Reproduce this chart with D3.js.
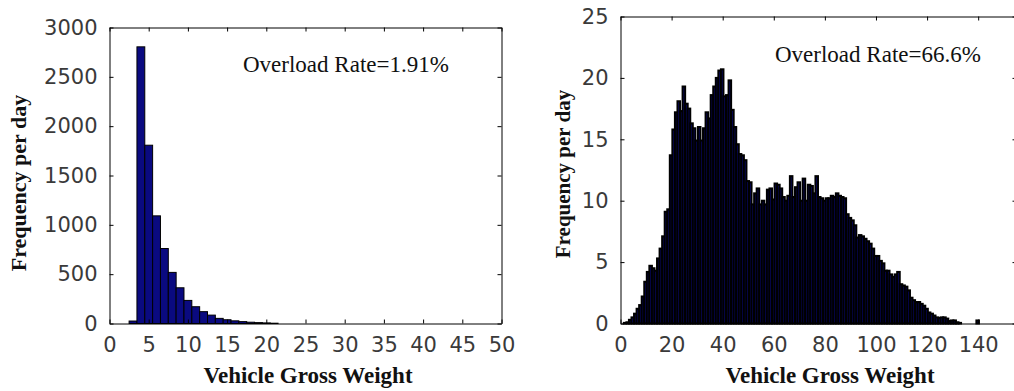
<!DOCTYPE html>
<html>
<head>
<meta charset="utf-8">
<script src="https://cdn.jsdelivr.net/npm/d3@7"></script>
<style>
  body { margin: 0; background: #fff; }
  .tick text { font-family: 'DejaVu Sans', sans-serif; font-size: 21px; fill: #3a3a3a; }
  .axis-label { font-family: 'Liberation Serif', 'Times New Roman', serif; font-weight: bold; font-size: 23px; fill: #111; }
  .note { font-family: 'Liberation Serif', 'Times New Roman', serif; font-size: 23px; fill: #111; }
</style>
</head>
<body>
<svg id="chart" width="1014" height="391"></svg>
<script>
// left panel: light vehicles, bins 1 wide centred on the integers
const leftCenters = [3, 4, 5, 6, 7, 8, 9, 10, 11, 12, 13, 14, 15, 16, 17, 18, 19, 20, 21];
const leftCounts = [25, 2804, 1807, 1091, 760, 518, 362, 234, 170, 120, 85, 52, 38, 27, 19, 13, 9, 6, 3];
const leftXTicks = [0, 5, 10, 15, 20, 25, 30, 35, 40, 45, 50];
const leftYTicks = [0, 500, 1000, 1500, 2000, 2500, 3000];

// right panel: heavy vehicles, bins 1 wide starting at 0.3
const rightBinStart = 0.3;
const rightCounts = [
  0, 0.05, 0.1, 0.3, 0.5, 0.8, 1.2, 1.5, 2.2, 3.4,
  4.2, 4.7, 4.5, 4.3, 5.3, 6.1, 7.1, 9.1, 9.3, 13.7,
  15.8, 17.2, 18.1, 17.3, 19.3, 17.9, 17.5, 16.3, 15.9, 14.9,
  16.0, 14.9, 15.9, 17.2, 16.7, 18.6, 19.3, 20.0, 20.6, 20.7,
  18.5, 18.6, 19.8, 17.4, 16.0, 14.6, 13.8, 13.7, 13.3, 11.6,
  11.5, 9.7, 10.6, 11.0, 9.7, 10.0, 9.7, 10.9, 11.0, 10.1,
  11.4, 11.3, 11.0, 10.3, 10.0, 10.4, 12.0, 10.3, 11.1, 11.5,
  10.0, 11.8, 10.0, 11.3, 11.2, 10.6, 12.0, 10.3, 10.2, 10.0,
  10.2, 10.2, 10.4, 10.3, 10.6, 10.4, 10.3, 10.2, 8.9, 8.6,
  8.4, 8.0, 7.0, 7.2, 7.1, 6.9, 6.7, 6.5, 6.1, 5.5,
  5.5, 5.1, 4.9, 4.3, 4.3, 4.0, 3.8, 4.0, 4.2, 3.2,
  3.1, 3.0, 2.7, 2.1, 1.9, 1.75, 1.75, 1.6, 1.45, 1.2,
  0.9, 0.8, 0.65, 0.5, 0.45, 0.5, 0.5, 0.4, 0.2, 0.25,
  0.25, 0.1, 0.05, 0, 0, 0, 0, 0, 0, 0.25,
];
const rightXTicks = [0, 20, 40, 60, 80, 100, 120, 140];
const rightYTicks = [0, 5, 10, 15, 20, 25];

const barFill = '#0a0a80';
const svg = d3.select('#chart');

function drawPanel(opts) {
  const { box, xDomain, yDomain, xTicks, yTicks, bars, edge, note, labelX, yLabelPos } = opts;
  const g = svg.append('g');
  const x = d3.scaleLinear().domain(xDomain).range([box.left, box.right]);
  const y = d3.scaleLinear().domain(yDomain).range([box.bottom, box.top]);
  const tick = 4;

  g.append('g')
    .selectAll('rect')
    .data(bars.filter((d) => d.v > 0))
    .enter()
    .append('rect')
    .attr('x', (d) => x(d.x0))
    .attr('width', (d) => x(d.x1) - x(d.x0))
    .attr('y', (d) => y(d.v))
    .attr('height', (d) => y(0) - y(d.v))
    .attr('fill', barFill)
    .attr('stroke', '#000')
    .attr('stroke-width', edge);

  const fmt = d3.format('d');
  const bottom = d3.axisBottom(x).tickValues(xTicks).tickFormat(fmt).tickSizeInner(-tick).tickSizeOuter(0).tickPadding(14);
  const top = d3.axisTop(x).tickValues(xTicks).tickSizeInner(-tick).tickSizeOuter(0).tickFormat('');
  const left = d3.axisLeft(y).tickValues(yTicks).tickFormat(fmt).tickSizeInner(-tick).tickSizeOuter(0).tickPadding(12);
  const right = d3.axisRight(y).tickValues(yTicks).tickSizeInner(-tick).tickSizeOuter(0).tickFormat('');

  g.append('g').attr('transform', `translate(0,${box.bottom})`).call(bottom);
  g.append('g').attr('transform', `translate(0,${box.top})`).call(top);
  g.append('g').attr('transform', `translate(${box.left},0)`).call(left);
  g.append('g').attr('transform', `translate(${box.right},0)`).call(right);

  g.selectAll('.domain, .tick line').attr('stroke', '#000');

  g.append('text')
    .attr('class', 'note')
    .attr('x', note.x)
    .attr('y', note.y)
    .text(note.text);

  g.append('text')
    .attr('class', 'axis-label')
    .attr('x', labelX)
    .attr('y', 383)
    .attr('text-anchor', 'middle')
    .text('Vehicle Gross Weight');

  g.append('text')
    .attr('class', 'axis-label')
    .attr('transform', `translate(${yLabelPos.x},${yLabelPos.y}) rotate(-90)`)
    .attr('text-anchor', 'middle')
    .style('font-size', yLabelPos.size + 'px')
    .text('Frequency per day');
}

drawPanel({
  box: { left: 109.5, right: 501.5, top: 27.5, bottom: 323.5 },
  xDomain: [0, 50],
  yDomain: [0, 3000],
  xTicks: leftXTicks,
  yTicks: leftYTicks,
  bars: leftCenters.map((c, i) => ({ x0: c - 0.5, x1: c + 0.5, v: leftCounts[i] })),
  edge: 1,
  note: { x: 243, y: 72, text: 'Overload Rate=1.91%' },
  labelX: 308,
  yLabelPos: { x: 26, y: 183, size: 22 },
});

drawPanel({
  box: { left: 620.5, right: 1016.5, top: 16.5, bottom: 323.5 },
  xDomain: [0, 155],
  yDomain: [0, 25],
  xTicks: rightXTicks,
  yTicks: rightYTicks,
  bars: rightCounts.map((v, i) => ({ x0: rightBinStart + i, x1: rightBinStart + i + 1, v: v })),
  edge: 2,
  note: { x: 775, y: 62, text: 'Overload Rate=66.6%' },
  labelX: 830,
  yLabelPos: { x: 570, y: 174, size: 21 },
});
</script>
</body>
</html>
